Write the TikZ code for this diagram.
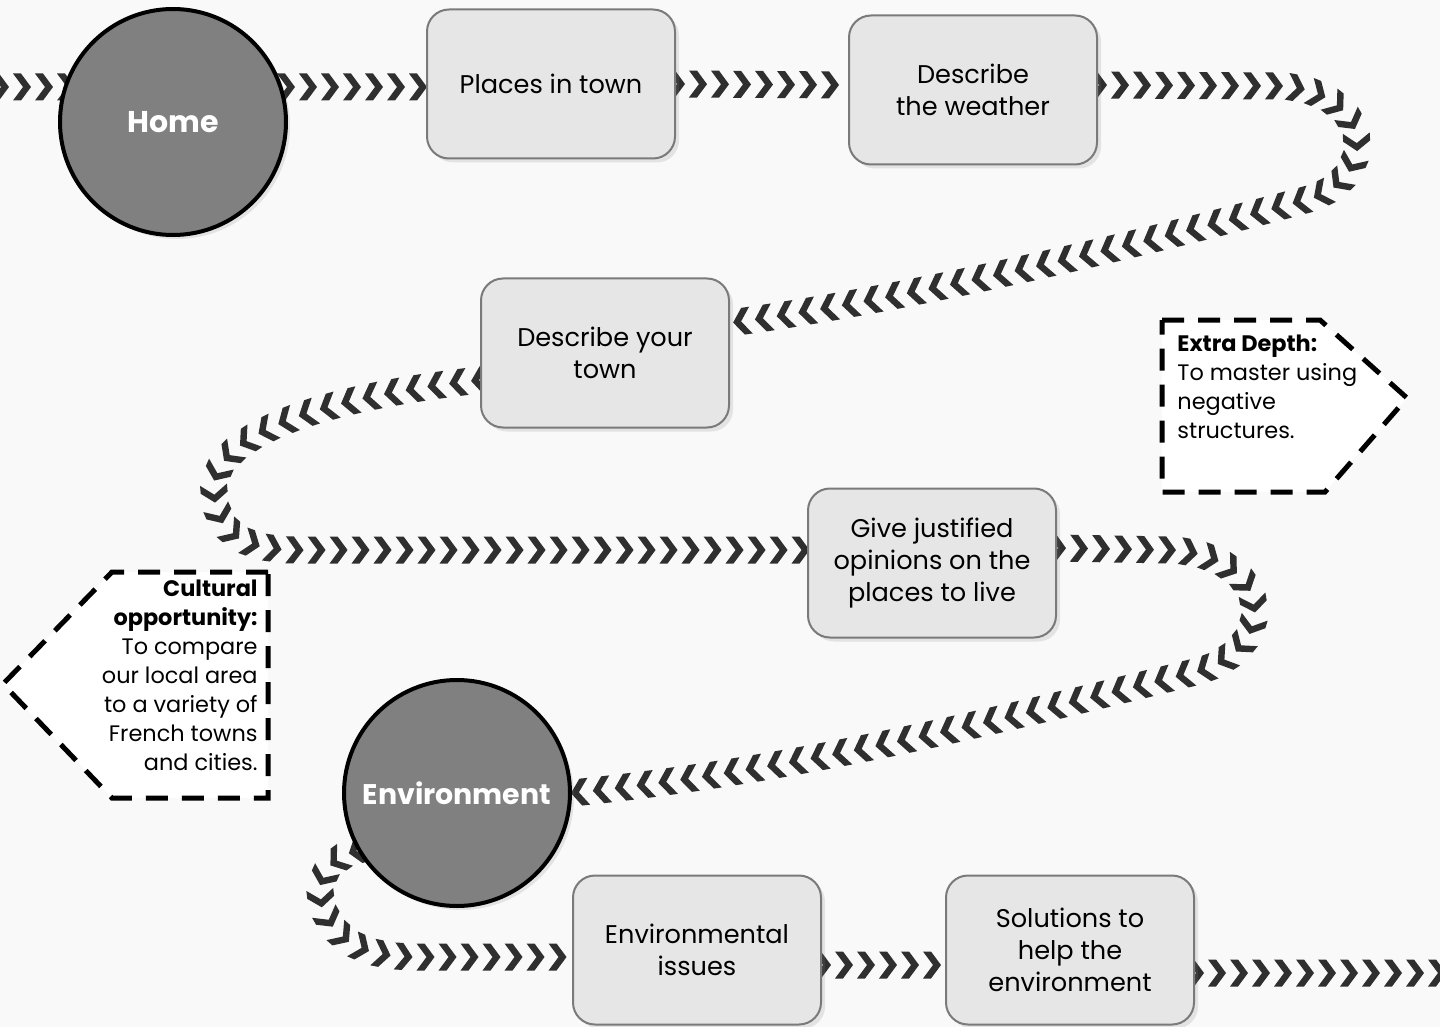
\documentclass[tikz,border=0pt]{standalone}
\usepackage{fontspec}
\setmainfont{Poppins}
\usetikzlibrary{decorations.markings,shadows}
\pgfdeclarelayer{bg}
\pgfdeclarelayer{trail}
\pgfsetlayers{bg,trail,main}
\definecolor{chevcol}{HTML}{2F2F2F}
\definecolor{boxfill}{HTML}{E6E6E6}
\definecolor{boxline}{HTML}{7A7A7A}
\definecolor{pagebg}{HTML}{F9F9F9}

\begin{document}
\begin{tikzpicture}[x=0.5pt,y=-0.5pt,
    topicbox/.style={rectangle,rounded corners=11pt,draw=boxline,line width=1pt,fill=boxfill,
        minimum width=124pt,minimum height=74.5pt,align=center,
        font=\fontsize{12.8}{16}\selectfont,
        drop shadow={opacity=0.18,shadow xshift=2pt,shadow yshift=-2pt}},
    unitcircle/.style={circle,draw=black,line width=2pt,fill=gray,minimum size=113pt,
        text=white,font=\bfseries,
        drop shadow={opacity=0.18,shadow xshift=2pt,shadow yshift=-2pt}},
    callout/.style={draw=black,line width=2.5pt,dash pattern=on 11pt off 7pt,fill=white},
    callouttext/.style={font=\fontsize{11.2}{14.5}\selectfont,inner sep=0pt},
    chevrons/.style={decorate,decoration={markings,
        mark=between positions 0 and 1 step 11pt with {
          \fill[chevcol] (-4.5pt,6.75pt) -- (-0.5pt,6.75pt) -- (4.5pt,0pt)
            -- (-0.5pt,-6.75pt) -- (-4.5pt,-6.75pt) -- (0.5pt,0pt) -- cycle;}}}]

    \useasboundingbox (0,0) rectangle (1440,1027);

    \node[unitcircle,font=\fontsize{15}{19}\bfseries\selectfont] (home) at (173,122) {Home};
    \node[unitcircle,font=\fontsize{14.2}{17}\bfseries\selectfont] (env) at (457,793) {Environment};

    \foreach \name/\x/\y/\txt in {places/551/84/{Places in town},
                                  weather/973/90/{Describe\\the weather},
                                  town/605/353/{Describe your\\town},
                                  opinions/932/563/{Give justified\\opinions on the\\places to live},
                                  issues/697/950/{Environmental\\issues},
                                  solutions/1070/950/{Solutions to\\help the\\environment}}{
        \node[topicbox] (\name) at (\x,\y) {\txt};
    }

    % callouts
    \path[callout] (1162,320) -- (1320,320) -- (1407,398) -- (1325,492) -- (1162,492) -- cycle;
    \node[callouttext,anchor=north west,align=left] (depth) at (1177,335)
        {\textbf{Extra Depth:}\\To master using\\negative\\structures.};
    \path[callout] (268,572) -- (112,572) -- (3,684) -- (112,798) -- (268,798) -- cycle;
    \node[callouttext,anchor=north east,align=right] (culture) at (258,580)
        {\textbf{Cultural}\\\textbf{opportunity:}\\To compare\\our local area\\to a variety of\\French towns\\and cities.};

    \coordinate (start) at (0,87);
    \coordinate (finish) at (1440,973);

    \begin{pgfonlayer}{bg}
        \fill[pagebg] (0,0) rectangle (1440,1027);
    \end{pgfonlayer}

    \begin{pgfonlayer}{trail}
        \path[chevrons] (start) -- ([yshift=-1.5pt]places.west);
        \path[chevrons] (places.east) -- ([yshift=2.5pt]weather.west);
        \path[chevrons] ([yshift=2.5pt]weather.east) -- (1280,86)
            .. controls (1375,92) and (1380,180) .. (1305,200)
            .. controls (1120,250) and (900,300) .. ([yshift=15pt]town.east);
        \path[chevrons] ([yshift=-13.5pt]town.west) .. controls (300,400) and (214,440) .. (214,490)
            .. controls (216,530) and (240,550) .. (300,550) -- ([yshift=6.5pt]opinions.west);
        \path[chevrons] ([yshift=7.5pt]opinions.east) -- (1170,550)
            .. controls (1275,556) and (1280,650) .. (1195,672)
            .. controls (1000,720) and (800,770) .. (env.east);
        \path[chevrons] (env.210) .. controls (328,860) and (316,880) .. (322,905)
            .. controls (336,945) and (370,957) .. (420,957) -- ([yshift=-3.5pt]issues.west);
        \path[chevrons] ([yshift=-7.5pt]issues.east) -- ([yshift=-7.5pt]solutions.west);
        \path[chevrons] ([yshift=-11.5pt]solutions.east) -- (finish);
    \end{pgfonlayer}
\end{tikzpicture}
\end{document}
